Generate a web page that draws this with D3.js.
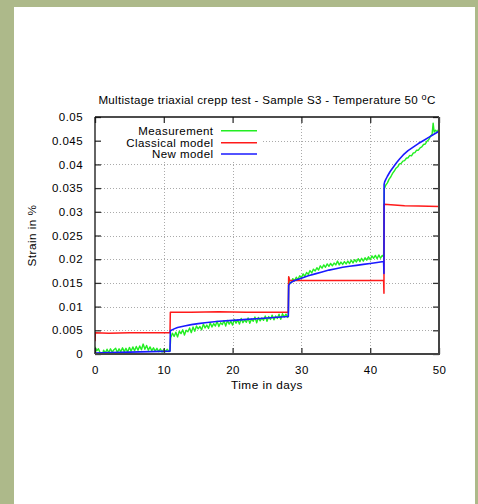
<!DOCTYPE html>
<html><head><meta charset="utf-8">
<script src="https://cdn.jsdelivr.net/npm/d3@7"></script>
<style>
html,body{margin:0;padding:0;background:#adb98a;}
svg{display:block;}
text{font-family:"Liberation Sans",Arial,sans-serif;fill:#000;letter-spacing:0.45px;}
</style></head><body>
<svg id="chart" width="478" height="504"></svg>
<script>
// ---------- data ----------
const titleText = "Multistage triaxial crepp test - Sample S3 - Temperature 50 ";
const xLabel = "Time in days";
const yLabel = "Strain in %";
const seriesNames = ["Measurement", "Classical model", "New model"];
const seriesColors = ["#22ee22", "#ff1a1a", "#1a1aff"];
const xTicks = [0, 10, 20, 30, 40, 50];
const xTickLabels = ["0", "10", "20", "30", "40", "50"];
const yTicks = [0, 0.005, 0.01, 0.015, 0.02, 0.025, 0.03, 0.035, 0.04, 0.045, 0.05];
const yTickLabels = ["0", "0.005", "0.01", "0.015", "0.02", "0.025", "0.03", "0.035", "0.04", "0.045", "0.05"];

// Measurement (strain values in 1e-4 units)
const measDays = [
 0,0.25,0.5,0.75,1,1.25,1.5,1.75,2,2.25,2.5,2.75,3,3.25,3.5,3.75,4,4.25,4.5,4.75,5,5.25,5.5,5.75,6,6.25,6.5,6.75,7,7.25,7.5,7.75,8,8.25,8.5,8.75,9,9.25,9.5,9.75,10,10.25,10.5,10.75,10.9,
 11,11.25,11.5,11.75,12,12.25,12.5,12.75,13,13.25,13.5,13.75,14,14.25,14.5,14.75,15,15.25,15.5,15.75,16,16.25,16.5,16.75,17,17.25,17.5,17.75,18,18.25,18.5,18.75,19,19.25,19.5,19.75,20,20.25,20.5,20.75,21,21.25,21.5,21.75,22,22.25,22.5,22.75,23,23.25,23.5,23.75,24,24.25,24.5,24.75,25,25.25,25.5,25.75,26,26.25,26.5,26.75,27,27.25,27.5,27.75,28,28.1,
 28.15,28.25,28.5,28.75,29,29.25,29.5,29.75,30,30.25,30.5,30.75,31,31.25,31.5,31.75,32,32.25,32.5,32.75,33,33.25,33.5,33.75,34,34.25,34.5,34.75,35,35.25,35.5,35.75,36,36.25,36.5,36.75,37,37.25,37.5,37.75,38,38.25,38.5,38.75,39,39.25,39.5,39.75,40,40.25,40.5,40.75,41,41.25,41.5,41.75,41.95,
 42.05,42.1,42.25,42.5,42.75,43,43.25,43.5,43.75,44,44.25,44.5,44.75,45,45.25,45.5,45.75,46,46.25,46.5,46.75,47,47.25,47.5,47.75,48,48.25,48.5,48.75,49,49.15,49.3,49.5,49.75,50
];
const measStrain = [
 15,7,11,2,-6,8,2,10,3,11,4,9,12,3,11,5,13,5,12,4,14,6,15,7,16,8,17,9,21,10,18,8,15,7,13,6,12,5,11,4,10,5,10,5,7,
 34,44,37,46,36,48,43,51,40,50,47,55,45,57,48,59,53,58,51,63,55,61,54,66,57,64,59,69,58,66,62,70,59,71,63,69,61,73,65,72,63,75,66,72,67,76,65,74,69,78,66,77,70,76,71,80,69,79,73,82,72,80,75,84,73,85,78,84,77,82,
 162,152,150,159,154,162,157,165,161,169,164,172,168,176,171,179,175,182,177,186,181,188,183,190,185,191,186,192,188,196,188,194,189,195,190,196,191,198,192,199,194,201,195,202,196,203,198,205,199,207,202,208,201,209,202,208,205,
 350,350,356,361,369,374,381,386,392,395,401,402,407,408,413,414,419,418,424,425,430,430,435,437,442,443,449,452,459,464,487,468,472,469,475
];

// Classical model
const classDays   = [0, 0.05, 2, 5, 8, 10.9, 10.95, 14, 18, 22, 26, 28.1, 28.15, 28.3, 32, 36, 40, 41.95, 42.0, 42.02, 43, 45, 47, 50];
const classStrain = [0.0027, 0.0045, 0.0044, 0.0045, 0.0045, 0.0045, 0.0088, 0.0088, 0.0089, 0.0088, 0.0088, 0.0088, 0.0163, 0.0155, 0.0155, 0.0155, 0.0155, 0.0155, 0.0128, 0.0316, 0.0315, 0.0313, 0.0312, 0.0311];

// New model
const newDays   = [0, 2, 5, 8, 10.9, 10.95, 11.5, 12, 13, 14, 15, 16, 18, 20, 22, 24, 26, 28.1, 28.15, 28.4, 29, 30, 31, 32, 33, 34, 35, 36, 37, 38, 39, 40, 41, 41.95, 42.0, 42.02, 42.1, 42.25, 42.5, 42.9, 43.4, 43.85, 44.3, 44.8, 45.5, 46.3, 47, 47.7, 48.5, 49.2, 50];
const newStrain = [0.0002, 0.0003, 0.0004, 0.0005, 0.0006, 0.0049, 0.0053, 0.0056, 0.0059, 0.0062, 0.0064, 0.0066, 0.0069, 0.0071, 0.0073, 0.0075, 0.0077, 0.0079, 0.0145, 0.0150, 0.0155, 0.0160, 0.0165, 0.0169, 0.0173, 0.0177, 0.0180, 0.0183, 0.0185, 0.0187, 0.0189, 0.0191, 0.0193, 0.0195, 0.0170, 0.0358, 0.0363, 0.0368, 0.0375, 0.0385, 0.0395, 0.0404, 0.0412, 0.0420, 0.0429, 0.0437, 0.0444, 0.0450, 0.0457, 0.0463, 0.0470];

// ---------- drawing ----------
const svg = d3.select("#chart");
svg.append("rect").attr("x", 14).attr("y", 7).attr("width", 461).attr("height", 497).attr("fill", "#fff");

const L = 95, R = 439, T = 117, B = 354;
const x = d3.scaleLinear().domain([0, 50]).range([L, R]);
const y = d3.scaleLinear().domain([0, 0.05]).range([B, T]);

const g = svg.append("g");

// grid
const grid = g.append("g").attr("stroke", "#aaa").attr("stroke-width", 1).attr("stroke-dasharray", "1,2");
yTicks.slice(1, -1).forEach(v => grid.append("line").attr("x1", L).attr("x2", R).attr("y1", Math.round(y(v)) + 0.5).attr("y2", Math.round(y(v)) + 0.5));
xTicks.slice(1, -1).forEach(v => grid.append("line").attr("y1", T).attr("y2", B).attr("x1", Math.round(x(v)) + 0.5).attr("x2", Math.round(x(v)) + 0.5));

svg.append("clipPath").attr("id", "clip").append("rect").attr("x", L).attr("y", T).attr("width", R - L).attr("height", B - T);

const line = d3.line().x(d => x(d[0])).y(d => y(d[1]));
const meas = measDays.map((d, i) => [d, measStrain[i] / 10000]);
const cls = classDays.map((d, i) => [d, classStrain[i]]);
const nw = newDays.map((d, i) => [d, newStrain[i]]);
const plot = g.append("g").attr("clip-path", "url(#clip)").attr("fill", "none").attr("stroke-linejoin", "round");
plot.append("path").datum(meas).attr("d", line).attr("stroke", seriesColors[0]).attr("stroke-width", 1.4);
plot.append("path").datum(cls).attr("d", line).attr("stroke", seriesColors[1]).attr("stroke-width", 1.5);
plot.append("path").datum(nw).attr("d", line).attr("stroke", seriesColors[2]).attr("stroke-width", 1.6);

// legend (opaque box)
g.append("rect").attr("x", L + 1).attr("y", T + 1).attr("width", 166).attr("height", 43).attr("fill", "#fff");
const legY = [130.7, 142.7, 154];
seriesNames.forEach((n, i) => {
  g.append("text").attr("x", 213.5).attr("y", legY[i] + 4).attr("text-anchor", "end").attr("font-size", 11.5).text(n);
  g.append("line").attr("x1", 221).attr("x2", 257).attr("y1", legY[i]).attr("y2", legY[i]).attr("stroke", seriesColors[i]).attr("stroke-width", 1.6);
});

// axes (ticks inward)
const axB = d3.axisBottom(x).tickValues(xTicks).tickFormat((d, i) => xTickLabels[i]).tickSizeInner(-6).tickSizeOuter(0).tickPadding(12);
const axT = d3.axisTop(x).tickValues(xTicks).tickFormat("").tickSizeInner(-6).tickSizeOuter(0);
const axL = d3.axisLeft(y).tickValues(yTicks).tickFormat((d, i) => yTickLabels[i]).tickSizeInner(-6).tickSizeOuter(0).tickPadding(12);
const axR = d3.axisRight(y).tickValues(yTicks).tickFormat("").tickSizeInner(-6).tickSizeOuter(0);
function style(sel) {
  sel.select(".domain").remove();
  sel.selectAll(".tick line").attr("stroke", "#333").attr("stroke-width", 1.3);
  sel.selectAll("text").attr("font-size", 11.5).attr("font-family", "Liberation Sans, Arial, sans-serif").attr("fill", "#000");
}
g.append("g").attr("transform", `translate(0,${B})`).call(axB).call(style);
g.append("g").attr("transform", `translate(0,${T})`).call(axT).call(style);
g.append("g").attr("transform", `translate(${L},0)`).call(axL).call(style);
g.append("g").attr("transform", `translate(${R},0)`).call(axR).call(style);

// frame
g.append("line").attr("x1", L).attr("x2", R).attr("y1", T).attr("y2", T).attr("stroke", "#111").attr("stroke-width", 1.3);
g.append("line").attr("x1", L).attr("x2", L).attr("y1", T).attr("y2", B).attr("stroke", "#111").attr("stroke-width", 1.3);
g.append("line").attr("x1", L).attr("x2", R + 1).attr("y1", B).attr("y2", B).attr("stroke", "#444").attr("stroke-width", 2);
g.append("line").attr("x1", R).attr("x2", R).attr("y1", T).attr("y2", B).attr("stroke", "#444").attr("stroke-width", 2);

// title
const tt = svg.append("text").attr("x", 267).attr("y", 104).attr("text-anchor", "middle").attr("font-size", 11.6).style("letter-spacing", "0.3px");
tt.append("tspan").text(titleText);
tt.append("tspan").attr("dy", -4).attr("font-size", 9).text("o");
tt.append("tspan").attr("dy", 4).text("C");

// axis labels
svg.append("text").attr("x", 267).attr("y", 389).attr("text-anchor", "middle").attr("font-size", 11.8).text(xLabel);
svg.append("text").attr("transform", `translate(36,${(T + B) / 2}) rotate(-90)`).attr("text-anchor", "middle").attr("font-size", 11.8).text(yLabel);
</script>
</body></html>
